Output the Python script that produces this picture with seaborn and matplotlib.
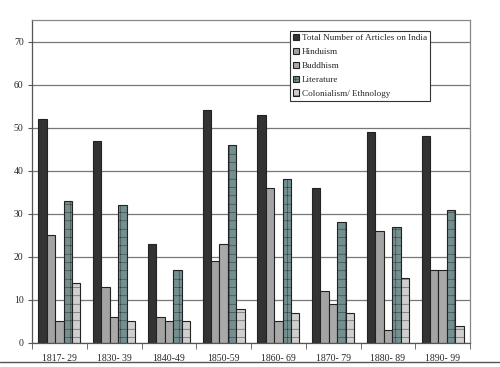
import matplotlib
matplotlib.use("Agg")
import matplotlib.pyplot as plt
import seaborn as sns
import pandas as pd
import numpy as np

periods = ["1817- 29", "1830- 39", "1840-49", "1850-59", "1860- 69", "1870- 79", "1880- 89", "1890- 99"]
series = ["Total Number of Articles on India", "Hinduism", "Buddhism", "Literature", "Colonialism/ Ethnology"]
total = [52, 47, 23, 54, 53, 36, 49, 48]
hinduism = [25, 13, 6, 19, 36, 12, 26, 17]
buddhism = [5, 6, 5, 23, 5, 9, 3, 17]
literature = [33, 32, 17, 46, 38, 28, 27, 31]
colonial = [14, 5, 5, 8, 7, 7, 15, 4]

colors = ["#333333", "#a3a3a3", "#a9a9a9", "#6f9494", "#cfcfcf"]
hatches = [None, None, None, "++", "--"]

rows = []
for name, vals in zip(series, [total, hinduism, buddhism, literature, colonial]):
    for p, v in zip(periods, vals):
        rows.append({"period": p, "series": name, "count": v})
df = pd.DataFrame(rows)

sns.set_style("white")
plt.rcParams["font.family"] = ["Liberation Serif", "DejaVu Serif"]
plt.rcParams["hatch.linewidth"] = 0.3

fig = plt.figure(figsize=(5, 3.67), dpi=100)
ax = fig.add_axes([0.064, 0.0654, 0.876, 0.88])

sns.barplot(data=df, x="period", y="count", hue="series", palette=colors,
            width=0.77, gap=0, edgecolor="#222222", linewidth=0.8, ax=ax, legend=True)

# texture on the teal and light bars
for cont, h in zip(ax.containers, hatches):
    for bar in cont:
        if h:
            bar.set_hatch(h)
            bar.set_edgecolor("#222222")

ax.set_ylim(0, 75)
ax.set_xlim(-0.5, len(periods) - 0.5)
ax.set_yticks(range(0, 80, 10))
ax.yaxis.grid(True, color="#777777", linewidth=0.9)
ax.set_axisbelow(True)
ax.set_xlabel("")
ax.set_ylabel("")
for s in ax.spines.values():
    s.set_color("#888888")
    s.set_linewidth(0.9)
ax.spines["bottom"].set_color("#555555")
ax.spines["left"].set_color("#555555")

ax.tick_params(axis="y", length=3, left=True, labelsize=7, pad=3, color="#555555")
ax.tick_params(axis="x", which="major", length=0, labelsize=7, pad=8)
ax.set_xticks(np.arange(-0.5, len(periods), 1), minor=True)
ax.tick_params(axis="x", which="minor", length=4, bottom=True, color="#555555")

handles, labels = ax.get_legend_handles_labels()
for hnd, h in zip(handles, hatches):
    if h:
        hnd.set_hatch(h)
leg = ax.legend(handles, labels, loc="upper left", bbox_to_anchor=(0.589, 0.966),
                borderaxespad=0, fontsize=6.6, frameon=True, fancybox=False,
                handlelength=0.7, handleheight=0.7, handletextpad=0.3,
                labelspacing=0.6, borderpad=0.3)
leg.get_frame().set_edgecolor("#333333")
leg.get_frame().set_linewidth(0.8)
leg.get_frame().set_alpha(1)

fig.add_artist(plt.Line2D([0, 1], [0.014, 0.014], color="#555555", linewidth=1))

fig.savefig("out.png", dpi=100)
